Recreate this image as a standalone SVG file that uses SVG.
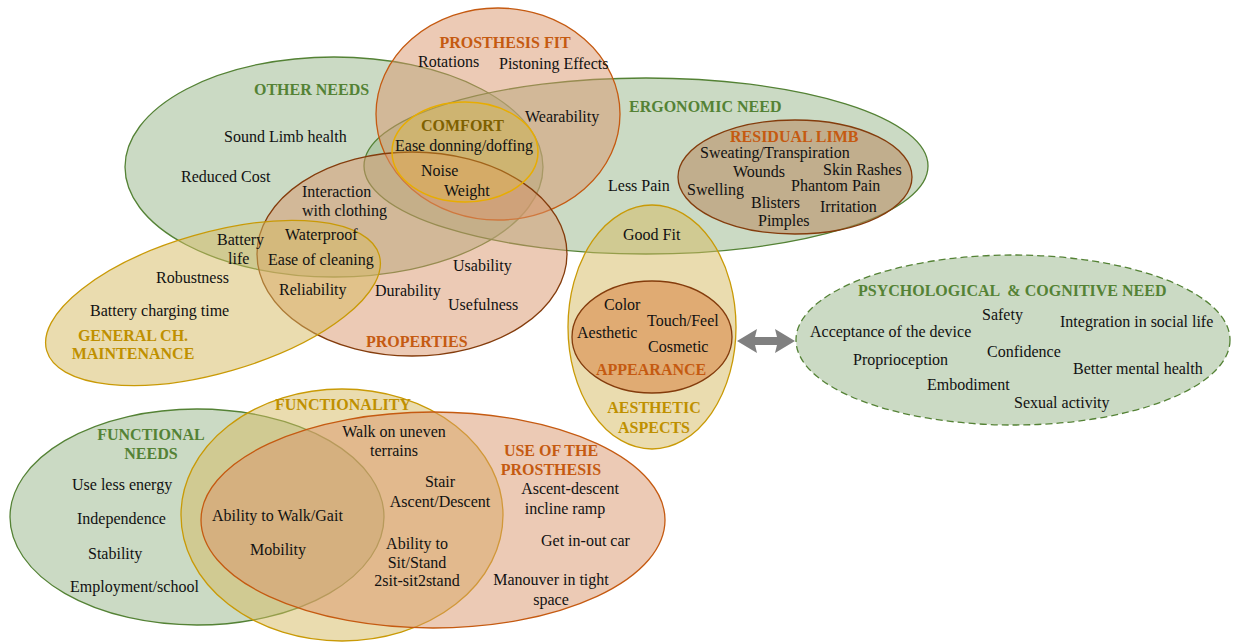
<svg xmlns="http://www.w3.org/2000/svg" width="1235" height="643" viewBox="0 0 1235 643">
<style>
text{font-family:"Liberation Serif","Times New Roman",serif;font-size:16px;fill:#111}
.t{font-weight:bold}
.tg{fill:#548235}.to{fill:#c55a11}.ty{fill:#bf9000}.tc{fill:#7f6000}
.m{text-anchor:middle}
.g{fill:#98b589;fill-opacity:.5;stroke:#548235;stroke-width:1.3}
.o{fill:#d9956b;fill-opacity:.5;stroke:#c55a11;stroke-width:1.3}
.p{fill:#d9956b;fill-opacity:.5;stroke:#843c0c;stroke-width:1.3}
.y{fill:#d5b95f;fill-opacity:.5;stroke:#c99a06;stroke-width:1.3}
</style>
<rect width="1235" height="643" fill="#fff"/>
<g id="other-needs"><ellipse class="g" cx="334" cy="167" rx="209" ry="110"/></g>
<g id="ergonomic-need"><ellipse class="g" cx="646" cy="166" rx="282" ry="88"/></g>
<g id="prosthesis-fit"><ellipse class="o" cx="498" cy="114" rx="122" ry="106"/></g>
<g id="properties"><ellipse class="p" cx="412" cy="254" rx="155" ry="102"/></g>
<g id="general-maintenance"><ellipse class="y" cx="213" cy="303" rx="173" ry="70" transform="rotate(-16 213 303)"/></g>
<g id="comfort"><ellipse cx="465" cy="152" rx="73" ry="50" fill="#e3bf3a" fill-opacity=".3" stroke="#e8ad00" stroke-width="1.5"/></g>
<g id="residual-limb"><ellipse cx="795" cy="177" rx="117" ry="57" fill="#b98a60" fill-opacity=".55" stroke="#843c0c" stroke-width="1.3"/></g>
<g id="aesthetic-aspects"><ellipse class="y" cx="652" cy="327" rx="84" ry="122"/></g>
<g id="appearance"><ellipse cx="652" cy="337" rx="80" ry="56" fill="#dc965a" fill-opacity=".7" stroke="#843c0c" stroke-width="1.3"/></g>
<g id="psychological-cognitive"><ellipse cx="1013" cy="340" rx="217" ry="85" fill="#98b589" fill-opacity=".5" stroke="#548235" stroke-width="1.3" stroke-dasharray="7 4"/></g>
<g id="functional-needs"><ellipse class="g" cx="197" cy="517" rx="187" ry="108"/></g>
<g id="functionality"><ellipse class="y" cx="342" cy="515" rx="161" ry="126"/></g>
<g id="use-of-prosthesis"><ellipse class="o" cx="433" cy="520" rx="232" ry="108"/></g>
<g id="connectors"><polygon points="737,341 757,329 755,337 777,337 775,329 795,341 775,353 777,345 755,345 757,353" fill="#808080"/></g>
<g id="other-needs-labels">
<text class="t tg" x="254" y="95">OTHER NEEDS</text>
<text x="224" y="142">Sound Limb health</text>
<text x="181" y="182">Reduced Cost</text></g>
<g id="ergonomic-need-labels">
<text class="t tg" x="629" y="112">ERGONOMIC NEED</text>
<text x="608" y="191">Less Pain</text>
<text x="623" y="240">Good Fit</text></g>
<g id="prosthesis-fit-labels">
<text class="t to m" x="505" y="48">PROSTHESIS FIT</text>
<text x="418" y="67">Rotations</text>
<text x="499" y="69">Pistoning Effects</text>
<text x="525" y="122">Wearability</text></g>
<g id="properties-labels">
<text class="t to" x="366" y="347">PROPERTIES</text>
<text x="302" y="197">Interaction</text>
<text x="302" y="216">with clothing</text>
<text x="453" y="271">Usability</text>
<text x="375" y="296">Durability</text>
<text x="448" y="310">Usefulness</text>
<text x="279" y="295">Reliability</text></g>
<g id="general-maintenance-labels">
<text class="t ty m" x="133" y="341">GENERAL CH.</text>
<text class="t ty m" x="133" y="359">MAINTENANCE</text>
<text x="217" y="245">Battery</text>
<text x="228" y="264">life</text>
<text x="285" y="240">Waterproof</text>
<text x="268" y="265">Ease of cleaning</text>
<text x="156" y="283">Robustness</text>
<text x="90" y="316">Battery charging time</text></g>
<g id="comfort-labels">
<text class="t tc" x="421" y="131">COMFORT</text>
<text x="395" y="151">Ease donning/doffing</text>
<text x="421" y="176">Noise</text>
<text x="444" y="196">Weight</text></g>
<g id="residual-limb-labels">
<text class="t to" x="730" y="142">RESIDUAL LIMB</text>
<text x="700" y="158">Sweating/Transpiration</text>
<text x="733" y="177">Wounds</text>
<text x="823" y="175">Skin Rashes</text>
<text x="687" y="195">Swelling</text>
<text x="791" y="191">Phantom Pain</text>
<text x="751" y="208">Blisters</text>
<text x="820" y="212">Irritation</text>
<text x="758" y="226">Pimples</text></g>
<g id="aesthetic-aspects-labels">
<text class="t ty m" x="654" y="413">AESTHETIC</text>
<text class="t ty m" x="654" y="433">ASPECTS</text></g>
<g id="appearance-labels">
<text class="t to" x="596" y="375">APPEARANCE</text>
<text x="604" y="310">Color</text>
<text x="647" y="326">Touch/Feel</text>
<text x="577" y="338">Aesthetic</text>
<text x="648" y="352">Cosmetic</text></g>
<g id="psychological-cognitive-labels">
<text class="t tg" x="858" y="296" style="white-space:pre">PSYCHOLOGICAL  &amp; COGNITIVE NEED</text>
<text x="982" y="320">Safety</text>
<text x="1060" y="327">Integration in social life</text>
<text x="810" y="337">Acceptance of the device</text>
<text x="987" y="357">Confidence</text>
<text x="853" y="365">Proprioception</text>
<text x="1073" y="374">Better mental health</text>
<text x="927" y="390">Embodiment</text>
<text x="1014" y="408">Sexual activity</text></g>
<g id="functional-needs-labels">
<text class="t tg m" x="151" y="440">FUNCTIONAL</text>
<text class="t tg m" x="151" y="459">NEEDS</text>
<text x="72" y="490">Use less energy</text>
<text x="77" y="524">Independence</text>
<text x="88" y="559">Stability</text>
<text x="70" y="592">Employment/school</text></g>
<g id="functionality-labels">
<text class="t ty" x="275" y="410">FUNCTIONALITY</text></g>
<g id="use-of-prosthesis-labels">
<text class="t to m" x="551" y="456">USE OF THE</text>
<text class="t to m" x="551" y="475">PROSTHESIS</text>
<text class="m" x="394" y="437">Walk on uneven</text>
<text class="m" x="394" y="456">terrains</text>
<text class="m" x="440" y="487">Stair</text>
<text class="m" x="440" y="507">Ascent/Descent</text>
<text class="m" x="570" y="494">Ascent-descent</text>
<text class="m" x="565" y="514">incline ramp</text>
<text x="212" y="521">Ability to Walk/Gait</text>
<text x="541" y="546">Get in-out car</text>
<text class="m" x="417" y="549">Ability to</text>
<text class="m" x="417" y="568">Sit/Stand</text>
<text class="m" x="417" y="586">2sit-sit2stand</text>
<text x="250" y="555">Mobility</text>
<text class="m" x="551" y="585">Manouver in tight</text>
<text class="m" x="551" y="605">space</text></g>
</svg>
